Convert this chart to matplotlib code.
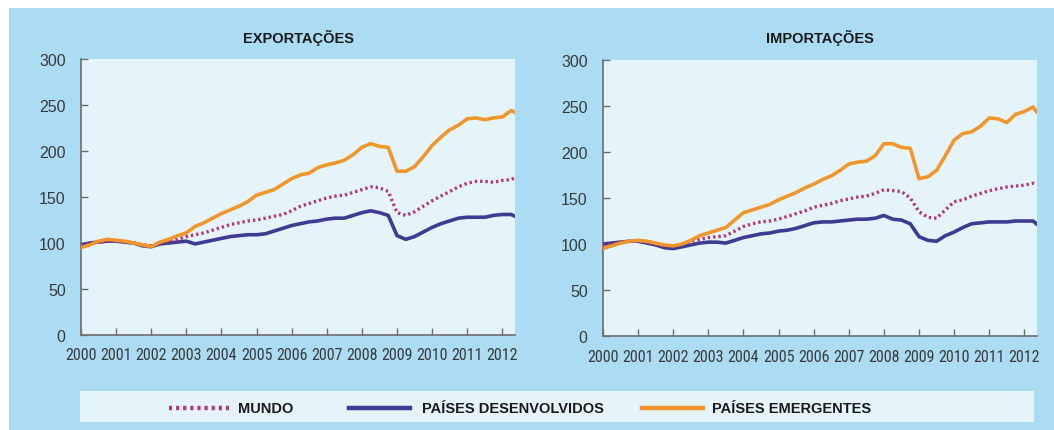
import matplotlib
matplotlib.use("Agg")
import matplotlib.pyplot as plt
from matplotlib import font_manager
from matplotlib.patches import Rectangle
from matplotlib.lines import Line2D

# ---------------- data ----------------
t_exp = [2000.00, 2000.25, 2000.50, 2000.75, 2001.00, 2001.25, 2001.50, 2001.75,
         2002.00, 2002.25, 2002.50, 2002.75, 2003.00, 2003.25, 2003.50, 2003.75,
         2004.00, 2004.25, 2004.50, 2004.75, 2005.00, 2005.25, 2005.50, 2005.75,
         2006.00, 2006.25, 2006.50, 2006.75, 2007.00, 2007.25, 2007.50, 2007.75,
         2008.00, 2008.25, 2008.50, 2008.75, 2009.00, 2009.25, 2009.50, 2009.75,
         2010.00, 2010.25, 2010.50, 2010.75, 2011.00, 2011.25, 2011.50, 2011.75,
         2012.00, 2012.25, 2012.36]
exp_emergentes = [95, 98, 102, 104, 103, 102, 100, 98,
                  96, 101, 104, 108, 111, 118, 122, 127,
                  132, 136, 140, 145, 152, 155, 158, 164,
                  170, 174, 176, 182, 185, 187, 190, 196,
                  204, 208, 205, 204, 178, 178, 183, 194,
                  206, 215, 223, 228, 235, 236, 234, 236,
                  237, 244, 242]
exp_mundo = [97, 99, 101, 102, 102, 101, 100, 98,
             97, 100, 102, 104, 107, 109, 111, 114,
             117, 120, 122, 124, 125, 127, 129, 131,
             135, 140, 143, 146, 149, 151, 152, 155,
             158, 161, 160, 156, 133, 130, 134, 140,
             146, 151, 156, 161, 165, 167, 167, 166,
             168, 169, 171]
exp_desenvolvidos = [98, 100, 101, 102, 102, 101, 100, 97,
                     96, 99, 100, 101, 102, 99, 101, 103,
                     105, 107, 108, 109, 109, 110, 113, 116,
                     119, 121, 123, 124, 126, 127, 127, 130,
                     133, 135, 133, 130, 108, 104, 107, 112,
                     117, 121, 124, 127, 128, 128, 128, 130,
                     131, 131, 129]

t_imp = [2000.00, 2000.25, 2000.50, 2000.75, 2001.00, 2001.25, 2001.50, 2001.75,
         2002.00, 2002.25, 2002.50, 2002.75, 2003.00, 2003.25, 2003.50, 2003.75,
         2004.00, 2004.25, 2004.50, 2004.75, 2005.00, 2005.25, 2005.50, 2005.75,
         2006.00, 2006.25, 2006.50, 2006.75, 2007.00, 2007.25, 2007.50, 2007.75,
         2008.00, 2008.25, 2008.50, 2008.75, 2009.00, 2009.25, 2009.50, 2009.75,
         2010.00, 2010.25, 2010.50, 2010.75, 2011.00, 2011.25, 2011.50, 2011.75,
         2012.00, 2012.25, 2012.34]
imp_emergentes = [95, 98, 101, 103, 104, 103, 101, 99,
                  98, 100, 104, 109, 112, 115, 118, 126,
                  134, 137, 140, 143, 148, 152, 156, 161,
                  165, 170, 174, 180, 187, 189, 190, 196,
                  209, 209, 205, 204, 171, 173, 180, 196,
                  213, 220, 222, 228, 237, 236, 232, 241,
                  244, 249, 244]
imp_mundo = [98, 100, 102, 103, 103, 102, 100, 98,
             98, 100, 103, 105, 107, 108, 109, 114,
             119, 122, 124, 125, 127, 130, 133, 136,
             140, 142, 144, 147, 149, 151, 152, 155,
             159, 158, 157, 150, 135, 129, 128, 137,
             146, 148, 152, 155, 158, 160, 162, 163,
             164, 166, 165]
imp_desenvolvidos = [100, 101, 102, 103, 103, 101, 99, 96,
                     95, 97, 99, 101, 102, 102, 101, 104,
                     107, 109, 111, 112, 114, 115, 117, 120,
                     123, 124, 124, 125, 126, 127, 127, 128,
                     131, 127, 126, 122, 108, 104, 103, 109,
                     113, 118, 122, 123, 124, 124, 124, 125,
                     125, 125, 122]

year_ticks = list(range(2000, 2013))
y_ticks = [0, 50, 100, 150, 200, 250, 300]
titles = ["EXPORTAÇÕES", "IMPORTAÇÕES"]
legend_labels = ["MUNDO", "PAÍSES DESENVOLVIDOS", "PAÍSES EMERGENTES"]

# ---------------- styles ----------------
installed = {f.name for f in font_manager.fontManager.ttflist}
NARROW, NARROW_SIZE = "Liberation Sans", 9.6
for cand in ("Liberation Sans Narrow", "Arial Narrow", "Roboto Condensed",
             "DejaVu Sans Condensed", "Open Sans Condensed"):
    if cand in installed:
        NARROW, NARROW_SIZE = cand, 11.5
        break
REG = "Liberation Sans"

OUTER_BG = "#abdcf4"
INNER_BG = "#e5f4fb"
C_ORANGE = "#f1962b"
C_BLUE = "#3e3b93"
C_MAG = "#b83473"
SPINE = "#6e6e6e"
TXT = "#3a3a3a"

W, H = 1054, 431
fig = plt.figure(figsize=(W / 100, H / 100), dpi=100)
fig.patch.set_facecolor("white")

# background axes (behind everything)
bg = fig.add_axes([0, 0, 1, 1], zorder=-10)
bg.set_xlim(0, W)
bg.set_ylim(H, 0)
bg.axis("off")
bg.add_patch(Rectangle((9, 9), W - 9, H - 9, facecolor=OUTER_BG, edgecolor="none"))
bg.add_patch(Rectangle((80, 392), 1034 - 80, 31, facecolor=INNER_BG, edgecolor="none"))


def px_axes(x0, y0, x1, y1):
    return [x0 / W, 1 - y1 / H, (x1 - x0) / W, (y1 - y0) / H]


panels = [
    (px_axes(81, 60, 515, 336), t_exp, exp_mundo, exp_desenvolvidos, exp_emergentes, titles[0], 2012.36),
    (px_axes(603, 61, 1037, 337), t_imp, imp_mundo, imp_desenvolvidos, imp_emergentes, titles[1], 2012.36),
]

for rect, t, mu, dv, em, title, xmax in panels:
    ax = fig.add_axes(rect)
    ax.set_facecolor(INNER_BG)
    ax.plot(t, dv, color=C_BLUE, lw=2.6, solid_joinstyle="round", zorder=3)
    ax.plot(t, mu, color=C_MAG, lw=2.4, linestyle=(0, (0.7, 0.9)), zorder=4)
    ax.plot(t, em, color=C_ORANGE, lw=2.6, solid_joinstyle="round", zorder=5)
    ax.set_xlim(2000, xmax)
    ax.set_ylim(0, 300)
    ax.set_xticks(year_ticks)
    ax.set_yticks(y_ticks)
    ax.set_xticklabels([str(y) for y in year_ticks], fontfamily=NARROW,
                       fontsize=NARROW_SIZE, color=TXT)
    ax.set_yticklabels([str(v) for v in y_ticks], fontfamily=REG, fontsize=11.5, color=TXT)
    ax.tick_params(axis="x", direction="in", length=5, width=1, color=SPINE, pad=9)
    ax.tick_params(axis="y", direction="in", length=5, width=1, color=SPINE, pad=11)
    for s in ("top", "right"):
        ax.spines[s].set_visible(False)
    for s in ("left", "bottom"):
        ax.spines[s].set_color(SPINE)
        ax.spines[s].set_linewidth(1.2)
    cx = rect[0] + rect[2] / 2
    fig.text(cx, 1 - 38 / H, title, ha="center", va="center", fontfamily=REG,
             fontweight="bold", fontsize=10.5, color="#1a1a1a")

# legend (manual, in figure pixels)
ly = 1 - 409 / H
handles = [
    (169, 229, C_MAG, (0, (0.7, 0.9)), 238, legend_labels[0]),
    (349, 410, C_BLUE, "-", 422, legend_labels[1]),
    (642, 703, C_ORANGE, "-", 712, legend_labels[2]),
]
for x0, x1, c, ls, tx, lab in handles:
    fig.add_artist(Line2D([x0 / W, x1 / W], [ly, ly], transform=fig.transFigure,
                          color=c, lw=3.2, linestyle=ls, zorder=5))
    fig.text(tx / W, ly, lab, ha="left", va="center", fontfamily=REG,
             fontweight="bold", fontsize=10.5, color="#1a1a1a", zorder=5)

fig.savefig("out.png", dpi=100, facecolor=fig.get_facecolor())
